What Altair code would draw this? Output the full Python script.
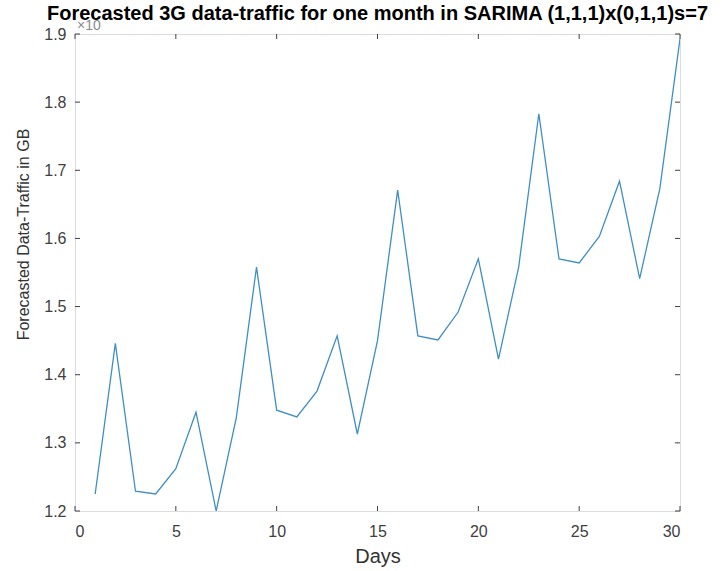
import altair as alt
import pandas as pd

days = list(range(1, 31))
traffic = [1.225, 1.446, 1.229, 1.225, 1.262, 1.345, 1.200, 1.337, 1.558, 1.348,
           1.338, 1.376, 1.457, 1.313, 1.450, 1.671, 1.457, 1.451, 1.492, 1.570,
           1.423, 1.558, 1.783, 1.570, 1.564, 1.603, 1.684, 1.541, 1.673, 1.893]
x_ticks = [0, 5, 10, 15, 20, 25, 30]
y_ticks = [1.2, 1.3, 1.4, 1.5, 1.6, 1.7, 1.8, 1.9]

W, H = 605, 477
FONT = "Liberation Sans"

df = pd.DataFrame({"day": days, "traffic": traffic})
dx = pd.DataFrame({"t": x_ticks})
dy = pd.DataFrame({"t": y_ticks})

xscale = alt.Scale(domain=[0, 30], nice=False, zero=False)
yscale = alt.Scale(domain=[1.2, 1.9], nice=False, zero=False)

line = alt.Chart(df).mark_line(color="#3f8fc4", strokeWidth=1.3, clip=True).encode(
    x=alt.X("day:Q", scale=xscale,
            axis=alt.Axis(values=x_ticks, title="Days", grid=False, ticks=False, domain=False,
                          labelFontSize=16, labelColor="#404040", labelPadding=12,
                          labelFont=FONT, titleFont=FONT, titleFontSize=20,
                          titleFontWeight="normal", titleColor="#333333", titlePadding=7)),
    y=alt.Y("traffic:Q", scale=yscale,
            axis=alt.Axis(values=y_ticks, format=".1f", title="Forecasted Data-Traffic in GB",
                          grid=False, ticks=False, domain=False,
                          labelFontSize=16, labelColor="#404040", labelPadding=9,
                          labelFont=FONT, titleFont=FONT, titleFontSize=16,
                          titleFontWeight="normal", titleColor="#333333", titlePadding=12,
                          titleY=200)),
)

tick_col = "#404040"
xb = alt.Chart(dx).mark_rule(color=tick_col, strokeWidth=1).encode(
    x=alt.X("t:Q", scale=xscale), y=alt.value(H), y2=alt.value(H - 5))
xt = alt.Chart(dx).mark_rule(color=tick_col, strokeWidth=1).encode(
    x=alt.X("t:Q", scale=xscale), y=alt.value(0), y2=alt.value(5))
yl = alt.Chart(dy).mark_rule(color=tick_col, strokeWidth=1).encode(
    y=alt.Y("t:Q", scale=yscale), x=alt.value(0), x2=alt.value(5))
yr = alt.Chart(dy).mark_rule(color=tick_col, strokeWidth=1).encode(
    y=alt.Y("t:Q", scale=yscale), x=alt.value(W), x2=alt.value(W - 5))

expo = alt.Chart(pd.DataFrame({"s": ["×10"]})).mark_text(
    align="left", baseline="middle", fontSize=14, color="#8a8a8a", font=FONT
).encode(text="s:N", x=alt.value(2), y=alt.value(-8))

chart = alt.layer(line, xb, xt, yl, yr, expo).properties(
    width=W, height=H,
    title=alt.Title("Forecasted 3G data-traffic for one month in SARIMA (1,1,1)x(0,1,1)s=7",
                    fontSize=20, fontWeight="bold", font=FONT, color="#000000",
                    anchor="middle", offset=-5),
    autosize=alt.AutoSizeParams(type="none"),
    padding={"left": 75, "top": 34, "right": 42, "bottom": 60},
).configure_view(stroke="#404040", strokeWidth=1.2).configure(background="white")

chart.save("out.html", embed_options={"renderer": "svg", "actions": False})
